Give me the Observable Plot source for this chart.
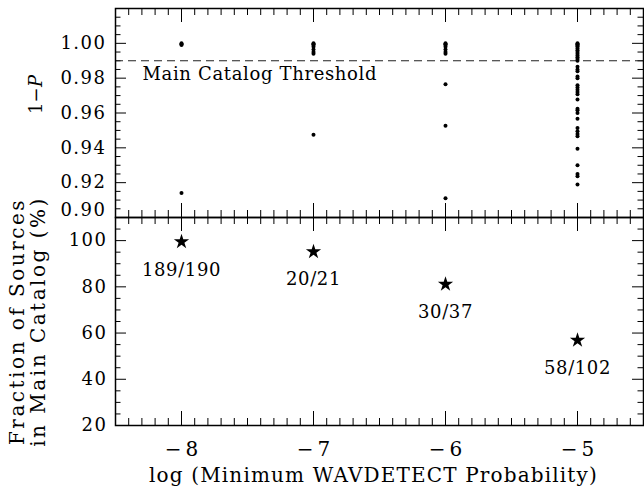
<!DOCTYPE html>
<html><head><meta charset="utf-8">
<script src="https://cdn.jsdelivr.net/npm/d3@7"></script>
<script src="https://cdn.jsdelivr.net/npm/@observablehq/plot@0.6"></script>
<style>
html,body{margin:0;padding:0;background:#fff;}
#chart svg{display:block;overflow:visible;}
</style></head><body><div id="chart"></div>
<script>
// ---- data ----
const logMinProb = [-8, -7, -6, -5];
const probAtM8 = [1.000, 0.9995, 0.999, 0.914];
const probAtM7 = [1.000, 0.9995, 0.999, 0.998, 0.9965, 0.995, 0.994, 0.9475];
const probAtM6 = [1.000, 0.9995, 0.999, 0.998, 0.9965, 0.995, 0.994, 0.9765, 0.9527, 0.911];
const probAtM5 = [1.000, 0.9995, 0.999, 0.9985, 0.998, 0.997, 0.996, 0.995, 0.994, 0.993, 0.992, 0.991, 0.990,
  0.9865, 0.985, 0.984, 0.981, 0.980, 0.976, 0.9746, 0.9734, 0.972, 0.9708, 0.9677,
  0.9625, 0.9616, 0.960, 0.9567, 0.9514, 0.9495, 0.9479, 0.9466, 0.9395, 0.930, 0.925, 0.9237, 0.919];
const fractionPct = [99.5, 95.2, 81.1, 56.9];
const fractionLabels = ["189/190", "20/21", "30/37", "58/102"];
const threshold = 0.99;
const thresholdLabel = "Main Catalog Threshold";
const yTopTicks = [1.00, 0.98, 0.96, 0.94, 0.92];
const yTopLowTick = 0.90;
const yBottomTicks = [20, 40, 60, 80, 100];
const xTickValues = [-8, -7, -6, -5];
const xTitle = "log (Minimum WAVDETECT Probability)";
const yTopTitle = ["1\u2212", "P"];
const yBottomTitle = ["Fraction of Sources", "in Main Catalog (%)"];

// ---- derived tables ----
const topPoints = [probAtM8, probAtM7, probAtM6, probAtM5]
  .flatMap((arr, i) => arr.map(p => ({x: logMinProb[i], p})));
const stars = logMinProb.map((x, i) => ({x, v: fractionPct[i], label: fractionLabels[i]}));

const r4 = v => Math.round(v * 10000) / 10000;
const xMinor = d3.range(-84, -45, 1).map(v => r4(v / 10)).filter(v => !Number.isInteger(v));
const yTopMinor = d3.range(181, 204, 1).map(v => r4(v * 0.005)).filter(v => Math.abs(v * 50 - Math.round(v * 50)) > 1e-6);
const yTopMajor = [...yTopTicks, yTopLowTick];
const yBotMinor = d3.range(25, 110, 5).filter(v => v % 20 !== 0);

const W = 644, ML = 115, MR = 1;
const FW = W - ML - MR;
const FONT = "DejaVu Serif";
const INK = "#000";

function tickMarks(fh, yMinor, yMajor) {
  const o = {stroke: INK, strokeWidth: 1};
  return [
    Plot.tickX(xMinor, {...o, x: d => d, insetBottom: fh - 7}),
    Plot.tickX(xMinor, {...o, x: d => d, insetTop: fh - 7}),
    Plot.tickX(xTickValues, {...o, x: d => d, insetBottom: fh - 14}),
    Plot.tickX(xTickValues, {...o, x: d => d, insetTop: fh - 14}),
    Plot.tickY(yMinor, {...o, y: d => d, insetRight: FW - 5.5}),
    Plot.tickY(yMinor, {...o, y: d => d, insetLeft: FW - 5.5}),
    Plot.tickY(yMajor, {...o, y: d => d, insetRight: FW - 11}),
    Plot.tickY(yMajor, {...o, y: d => d, insetLeft: FW - 11})
  ];
}

// ---- top panel ----
const topH = 217, topMT = 8, topMB = 0;
const topPanel = Plot.plot({
  width: W, height: topH,
  marginLeft: ML, marginRight: MR, marginTop: topMT, marginBottom: topMB,
  style: {fontFamily: FONT, fontSize: "18px", color: INK, background: "white", overflow: "visible"},
  x: {domain: [-8.5, -4.5], axis: null},
  y: {domain: [0.90, 1.02], ticks: yTopTicks, tickSize: 0, tickPadding: 9, tickFormat: d => d.toFixed(2), label: null},
  marks: [
    ...tickMarks(topH - topMT - topMB, yTopMinor, yTopMajor),
    Plot.ruleY([threshold], {stroke: "#222", strokeWidth: 1.2, strokeDasharray: "8,5"}),
    Plot.text([{label: thresholdLabel, y: threshold}], {y: "y", text: "label", frameAnchor: "left", textAnchor: "start", dx: 27, dy: 13, fill: INK}),
    Plot.text([yTopLowTick], {y: d => d, text: d => d.toFixed(2), frameAnchor: "left", textAnchor: "end", dx: -9, dy: -7, fill: INK}),
    Plot.dot(topPoints, {x: "x", y: "p", r: 2, fill: INK, stroke: "none"}),
    Plot.text([yTopTitle[0]], {frameAnchor: "left", dx: -79, dy: 1, rotate: -90, textAnchor: "start", fill: INK}),
    Plot.text([yTopTitle[1]], {frameAnchor: "left", dx: -79, dy: -26, rotate: -90, textAnchor: "start", fontStyle: "italic", fill: INK}),
    Plot.frame({stroke: INK, strokeWidth: 1.5})
  ]
});

// ---- bottom panel ----
const botH = 274, botMT = 0, botMB = 66;
const bottomPanel = Plot.plot({
  width: W, height: botH,
  marginLeft: ML, marginRight: MR, marginTop: botMT, marginBottom: botMB,
  style: {fontFamily: FONT, fontSize: "18px", color: INK, background: "white", overflow: "visible"},
  x: {domain: [-8.5, -4.5], ticks: xTickValues, tickSize: 0, tickPadding: 16, tickFormat: d => "\u2212" + Math.abs(d), label: null},
  y: {domain: [20, 110], ticks: yBottomTicks, tickSize: 0, tickPadding: 8, label: null},
  marks: [
    ...tickMarks(botH - botMT - botMB, yBotMinor, yBottomTicks),
    Plot.dot(stars, {x: "x", y: "v", symbol: "star", r: 4.8, fill: INK, stroke: "none"}),
    Plot.text(stars, {x: "x", y: "v", text: "label", dy: 28, fill: INK}),
    Plot.text([xTitle], {frameAnchor: "bottom", lineAnchor: "middle", dy: 50, dx: -6, fontSize: 20, fill: INK}),
    Plot.text([yBottomTitle[0]], {frameAnchor: "left", dx: -98, rotate: -90, textAnchor: "middle", fontSize: 20, fill: INK}),
    Plot.text([yBottomTitle[1]], {frameAnchor: "left", dx: -77, rotate: -90, textAnchor: "middle", fontSize: 20, fill: INK}),
    Plot.frame({stroke: INK, strokeWidth: 1.5})
  ]
});

// letter spacing to approximate the wide Hershey-style lettering
const sel = (svg, css) => d3.select(svg).selectAll(css);
const byText = (svg, strs, ls) => d3.select(svg).selectAll("text")
  .filter(function() { return strs.includes(this.textContent); }).attr("letter-spacing", ls);
sel(topPanel, 'g[aria-label="y-axis tick label"] text').attr("letter-spacing", 1.5);
byText(topPanel, ["0.90"], 1.5);
byText(topPanel, [thresholdLabel], 0.65);
sel(bottomPanel, 'g[aria-label="y-axis tick label"] text').attr("letter-spacing", 1.5);
sel(bottomPanel, 'g[aria-label="x-axis tick label"] text').attr("letter-spacing", 4).attr("font-size", 20).attr("dx", 2);
byText(bottomPanel, fractionLabels, 0.6);
byText(bottomPanel, [xTitle], 1.15);
byText(bottomPanel, yBottomTitle, 2.5);

document.getElementById("chart").append(topPanel, bottomPanel);
</script>
</body></html>
